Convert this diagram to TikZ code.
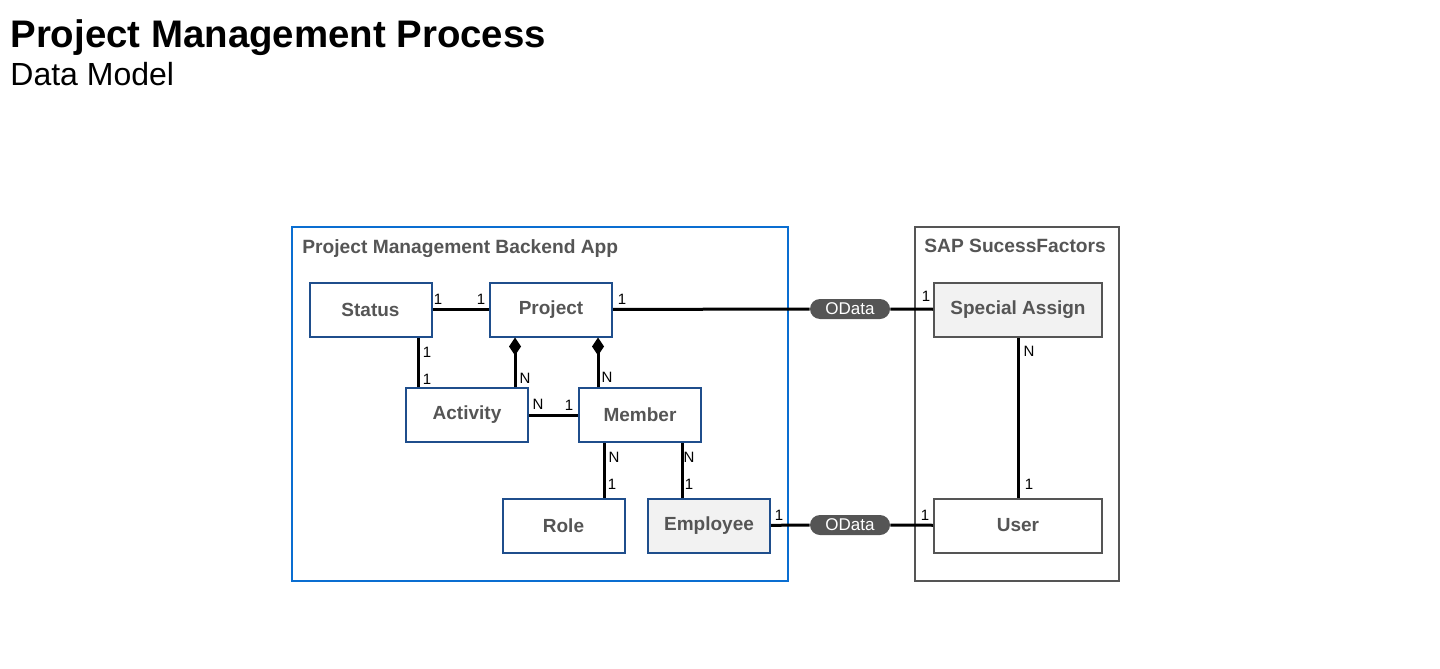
\documentclass[tikz,border=0pt]{standalone}
\usepackage{fontspec}
\setmainfont{Liberation Sans}
\usetikzlibrary{arrows.meta}
\definecolor{nb}{HTML}{1F4E8C}
\definecolor{ob}{HTML}{0A6ED1}
\definecolor{tg}{HTML}{555555}
\definecolor{fg}{HTML}{F2F2F2}
\begin{document}
\begin{tikzpicture}[x=0.5pt,y=-0.5pt,
 ent/.style={draw=nb,line width=1pt,fill=white,minimum width=61pt,minimum height=27pt,inner sep=0pt,text=tg,font=\bfseries\fontsize{9.5}{11}\selectfont},
 sf/.style={ent,draw=tg,minimum width=84pt},
 rel/.style={line width=1.5pt},
 card/.style={font=\fontsize{7.5}{8}\selectfont,inner sep=1pt},
 pill/.style={fill=tg,text=white,rounded corners=5pt,minimum width=40pt,minimum height=10pt,inner sep=0pt,font=\fontsize{8.5}{9}\selectfont},
 comp/.style={-{Diamond[length=9pt,width=6pt]}}]
\useasboundingbox (0,0) rectangle (1440,669);
\node[anchor=base west,font=\bfseries\fontsize{19.2}{21}\selectfont,inner sep=0pt] (title) at (10,47) {Project Management Process};
\node[anchor=base west,font=\fontsize{16}{18}\selectfont,inner sep=0pt] (sub) at (10,85) {Data Model};
\draw[ob,line width=1pt] (292,227) rectangle (788,581);
\node[anchor=north west,text=tg,font=\bfseries\fontsize{9.6}{11}\selectfont,inner sep=0pt] (bl) at (302,239) {Project Management Backend App};
\draw[tg,line width=1pt] (915,227) rectangle (1119,581);
\node[anchor=north west,text=tg,font=\bfseries\fontsize{9.6}{11}\selectfont,inner sep=0pt] (gl) at (924,239) {SAP SucessFactors};
\node[ent] (status) at (370.5,309.5) {Status};
\node[ent] (project) at (551,309.5) {Project};
\node[ent] (activity) at (467,415) {Activity};
\node[ent] (member) at (640,415) {Member};
\node[ent] (role) at (563.5,525.5) {Role};
\node[ent,fill=fg] (employee) at (709,525.5) {Employee};
\node[sf,fill=fg] (special) at (1018,309.5) {Special Assign};
\node[sf] (user) at (1018,525.5) {User};
\node[pill] (od1) at (850,309) {OData};
\node[pill] (od2) at (850,525) {OData};
\draw[rel] (status) -- (project);
\draw[rel] (project) -- (od1) -- (special);
\draw[rel] (employee) -- (od2) -- (user);
\draw[rel] (status.south -| 418,0) -- (activity.north -| 418,0);
\draw[rel,comp] (activity.north -| 515,0) -- (project.south -| 515,0);
\draw[rel,comp] (member.north -| 598,0) -- (project.south -| 598,0);
\draw[rel] (activity) -- (member);
\draw[rel] (member.south -| 604,0) -- (role.north -| 604,0);
\draw[rel] (member.south -| 682,0) -- (employee.north -| 682,0);
\draw[rel] (special) -- (user);
\node[card] (c1) at (438,299) {1};
\node[card] (c2) at (481,299) {1};
\node[card] (c3) at (622,299) {1};
\node[card] (c4) at (926,296) {1};
\node[card] (c5) at (427,352) {1};
\node[card] (c6) at (427,379) {1};
\node[card] (c7) at (525,378) {N};
\node[card] (c8) at (607,377) {N};
\node[card] (c9) at (538,404) {N};
\node[card] (c10) at (569,405) {1};
\node[card] (c11) at (614,457) {N};
\node[card] (c12) at (612,484) {1};
\node[card] (c13) at (689,457) {N};
\node[card] (c14) at (689,484) {1};
\node[card] (c15) at (779,515) {1};
\node[card] (c16) at (925,515) {1};
\node[card] (c17) at (1029,351) {N};
\node[card] (c18) at (1029,484) {1};
\end{tikzpicture}
\end{document}
